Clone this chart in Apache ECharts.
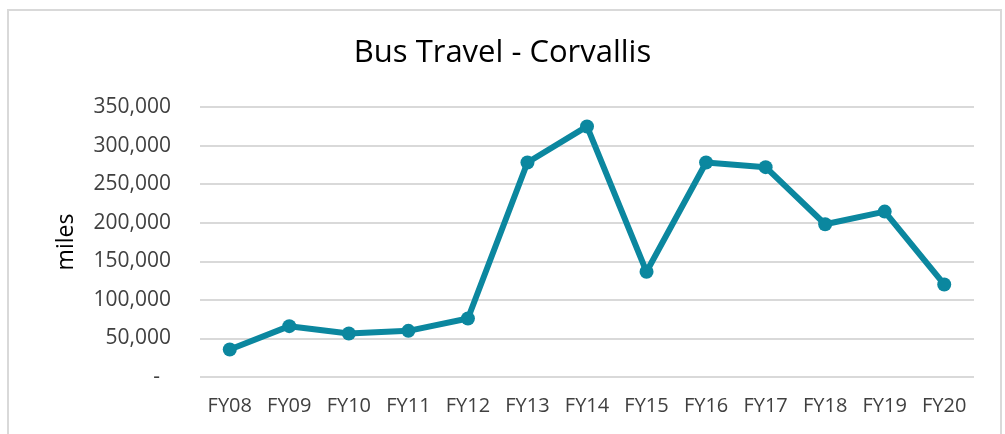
<!DOCTYPE html>
<html>
<head>
<meta charset="utf-8">
<script src="https://cdn.jsdelivr.net/npm/echarts@6/dist/echarts.min.js"></script>
<style>
    html, body {margin: 0; padding: 0; background: #fff;}
    #echartsmain {width: 1005px; height: 434px;}
</style>
</head>
<body>
<div id="echartsmain"></div>
<script>
// 数据
var years = ["FY08", "FY09", "FY10", "FY11", "FY12", "FY13", "FY14", "FY15", "FY16", "FY17", "FY18", "FY19", "FY20"];
var busMiles = [35600, 65900, 56400, 59800, 75900, 278000, 324800, 136400, 278000, 272000, 198000, 214400, 120000];
var yTicks = [0, 50000, 100000, 150000, 200000, 250000, 300000, 350000];

var lineColor = '#0b879f';

var option = {
    backgroundColor: '#fff',
    title: {
        text: 'Bus Travel - Corvallis',
        left: 'center',
        top: 33,
        textStyle: {fontFamily: 'Open Sans', fontWeight: 'normal', fontSize: 31, color: '#000'}
    },
    graphic: [{
        type: 'rect',
        shape: {x: 8, y: 10, width: 993, height: 440},
        style: {fill: 'none', stroke: '#d9d9d9', lineWidth: 2},
        silent: true
    }],
    grid: {left: 200, right: 31, top: 107, bottom: 57},
    xAxis: {
        type: 'category',
        data: years,
        boundaryGap: true,
        axisLine: {show: false},
        axisTick: {show: false},
        axisLabel: {interval: 0, color: '#404040', fontFamily: 'Open Sans', fontSize: 20, margin: 19}
    },
    yAxis: {
        type: 'value',
        min: yTicks[0],
        max: yTicks[yTicks.length - 1],
        interval: 50000,
        name: 'miles',
        nameLocation: 'middle',
        nameGap: 122,
        nameTextStyle: {color: '#000', fontFamily: 'Open Sans', fontSize: 23},
        axisLine: {show: false},
        axisTick: {show: false},
        splitLine: {lineStyle: {color: '#d9d9d9', width: 2}},
        axisLabel: {
            color: '#404040',
            fontFamily: 'Open Sans',
            fontSize: 21,
            margin: 29,
            formatter: function (v) {
                if (v === 0) {
                    return '-  ';
                }
                return v.toLocaleString('en-US');
            }
        }
    },
    series: [{
        name: 'Bus Travel',
        type: 'line',
        data: busMiles,
        symbol: 'circle',
        symbolSize: 14,
        itemStyle: {color: lineColor},
        lineStyle: {color: lineColor, width: 6}
    }]
};

var myChart = echarts.init(document.getElementById('echartsmain'));
myChart.setOption(option);
</script>
</body>
</html>
